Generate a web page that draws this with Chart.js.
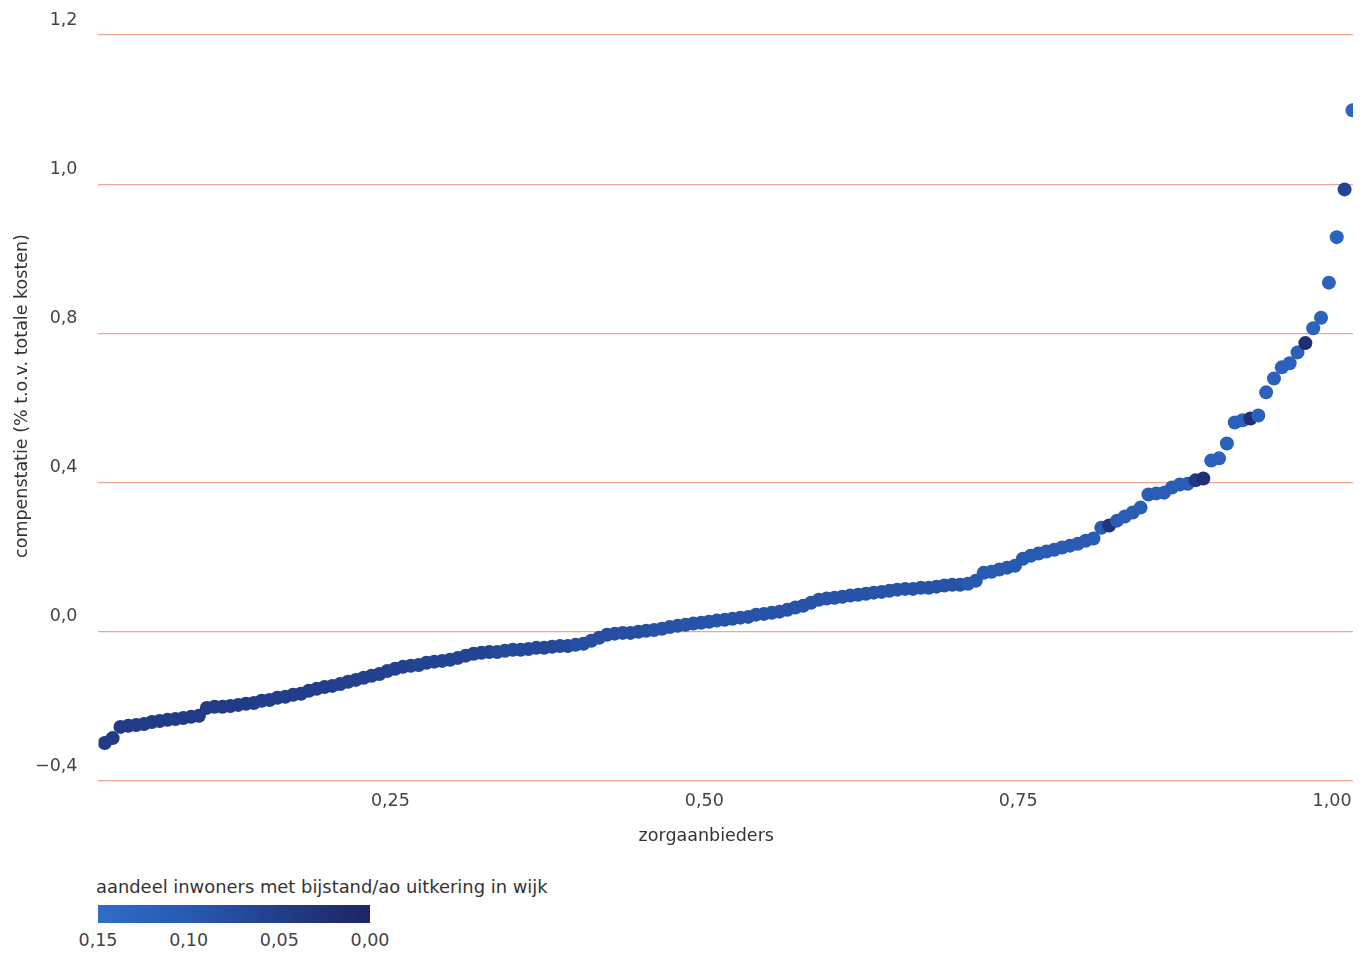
<!DOCTYPE html>
<html>
<head>
<meta charset="utf-8">
<script src="https://cdn.jsdelivr.net/npm/chart.js@4/dist/chart.umd.min.js"></script>
<style>
  html, body { margin: 0; padding: 0; background: #fff; }
  #wrap { position: relative; width: 1360px; height: 956px; }
  #c { position: absolute; left: 0; top: 0; }
  .lg { position: absolute; font-family: "DejaVu Sans", Verdana, sans-serif; color: #333; font-size: 17.9px; }
  #lgTitle { left: 96px; top: 876px; }
  #lgBar { position: absolute; left: 98px; top: 905px; width: 272px; height: 18px; }
  .lgTick { position: absolute; top: 930px; font-family: "DejaVu Sans", Verdana, sans-serif; color: #444; font-size: 17.5px; transform: translateX(-50%); }
</style>
</head>
<body>
<div id="wrap">
  <canvas id="c" width="1360" height="845"></canvas>
  <div class="lg" id="lgTitle">aandeel inwoners met bijstand/ao uitkering in wijk</div>
  <div id="lgBar"></div>
</div>
<script>
// ---- data ----
const compensation = [
-0.298,-0.285,-0.255,-0.252,-0.250,-0.247,-0.242,-0.239,-0.236,-0.234,
-0.231,-0.228,-0.225,-0.204,-0.201,-0.201,-0.199,-0.196,-0.193,-0.191,
-0.185,-0.183,-0.177,-0.174,-0.169,-0.166,-0.158,-0.153,-0.148,-0.145,
-0.140,-0.134,-0.129,-0.123,-0.118,-0.113,-0.105,-0.099,-0.094,-0.091,
-0.089,-0.083,-0.080,-0.078,-0.075,-0.070,-0.064,-0.059,-0.056,-0.054,
-0.054,-0.051,-0.048,-0.048,-0.046,-0.043,-0.043,-0.040,-0.038,-0.038,
-0.035,-0.032,-0.024,-0.016,-0.008,-0.005,-0.003,-0.003,0.000,0.003,
0.005,0.008,0.013,0.016,0.019,0.022,0.024,0.027,0.030,0.032,
0.035,0.038,0.040,0.046,0.048,0.051,0.054,0.059,0.065,0.070,
0.078,0.086,0.089,0.091,0.094,0.097,0.099,0.102,0.105,0.107,
0.110,0.113,0.115,0.115,0.118,0.118,0.121,0.124,0.126,0.126,
0.129,0.137,0.158,0.161,0.167,0.172,0.177,0.196,0.204,0.210,
0.215,0.220,0.226,0.231,0.236,0.244,0.250,0.279,0.285,0.298,
0.309,0.320,0.333,0.368,0.371,0.373,0.387,0.395,0.397,0.406,
0.411,0.459,0.465,0.505,0.561,0.567,0.572,0.580,0.642,0.679,
0.709,0.720,0.749,0.774,0.807,0.821,0.868,0.929,0.993,1.099
];
const benefitShare = [
0.045,0.045,0.045,0.045,0.045,0.045,0.045,0.045,0.045,0.045,
0.045,0.045,0.045,0.045,0.045,0.045,0.045,0.045,0.045,0.045,
0.050,0.050,0.050,0.050,0.050,0.050,0.050,0.050,0.050,0.050,
0.055,0.055,0.055,0.055,0.055,0.055,0.055,0.055,0.055,0.055,
0.060,0.060,0.060,0.060,0.060,0.060,0.060,0.060,0.060,0.060,
0.070,0.070,0.070,0.070,0.070,0.070,0.070,0.070,0.070,0.070,
0.080,0.080,0.080,0.080,0.080,0.080,0.080,0.080,0.080,0.080,
0.090,0.090,0.090,0.090,0.090,0.090,0.090,0.090,0.090,0.090,
0.090,0.090,0.090,0.090,0.090,0.090,0.090,0.090,0.090,0.090,
0.090,0.090,0.090,0.090,0.090,0.090,0.090,0.090,0.090,0.090,
0.090,0.090,0.090,0.090,0.090,0.090,0.090,0.090,0.090,0.090,
0.100,0.100,0.100,0.100,0.100,0.100,0.100,0.100,0.100,0.100,
0.105,0.105,0.105,0.105,0.105,0.105,0.105,0.105,0.030,0.105,
0.110,0.110,0.110,0.110,0.110,0.110,0.110,0.110,0.110,0.040,
0.020,0.120,0.120,0.120,0.120,0.120,0.020,0.120,0.120,0.120,
0.120,0.120,0.120,0.020,0.125,0.125,0.125,0.125,0.060,0.130
];
const yTickValues = [-0.4, 0.0, 0.4, 0.8, 1.0, 1.2];
const yTickLabels = ['\u22120,4', '0,0', '0,4', '0,8', '1,0', '1,2'];
const xTickValues = [0.25, 0.50, 0.75, 1.00];
const xTickLabels = ['0,25', '0,50', '0,75', '1,00'];
const legendTickValues = [0.15, 0.10, 0.05, 0.00];
const legendTickLabels = ['0,15', '0,10', '0,05', '0,00'];
const colorStops = [ // share -> colour
  [0.00, [30, 36, 100]],
  [0.05, [34, 62, 138]],
  [0.10, [40, 90, 176]],
  [0.15, [48, 108, 200]]
];

// ---- helpers ----
function axisPos(v) { // piecewise position along the (non-linear) y axis
  for (let k = 0; k < yTickValues.length - 1; k++) {
    const a = yTickValues[k], b = yTickValues[k + 1];
    if (v <= b || k === yTickValues.length - 2) return k + (v - a) / (b - a);
  }
}
function shareColor(s) {
  for (let k = 0; k < colorStops.length - 1; k++) {
    const [a, ca] = colorStops[k], [b, cb] = colorStops[k + 1];
    if (s <= b || k === colorStops.length - 2) {
      const t = Math.max(0, Math.min(1, (s - a) / (b - a)));
      const c = ca.map((x, j) => Math.round(x + (cb[j] - x) * t));
      return `rgb(${c[0]},${c[1]},${c[2]})`;
    }
  }
}
const n = compensation.length;
const points = compensation.map((v, i) => ({ x: (i + 3.6) / n, y: axisPos(v) }));
const colors = benefitShare.map(shareColor);

// legend
document.getElementById('lgBar').style.background =
  `linear-gradient(to right, ${shareColor(0.15)}, ${shareColor(0.10)}, ${shareColor(0.05)}, ${shareColor(0.0)})`;
legendTickLabels.forEach((lab, k) => {
  const d = document.createElement('div');
  d.className = 'lgTick';
  d.textContent = lab;
  d.style.left = (98 + (0.15 - legendTickValues[k]) / 0.15 * 272) + 'px';
  document.getElementById('wrap').appendChild(d);
});

const xTitleText = 'zorgaanbieders';
const yTitleText = 'compenstatie (% t.o.v. totale kosten)';
const titlesPlugin = {
  id: 'titles',
  afterDraw(chart) {
    const { ctx, scales: { x, y } } = chart;
    ctx.save();
    ctx.fillStyle = '#333';
    ctx.textAlign = 'center';
    ctx.textBaseline = 'middle';
    ctx.font = '17.5px "DejaVu Sans"';
    ctx.fillText(xTitleText, x.getPixelForValue(0.5) + 2, x.bottom - 9);
    ctx.translate(22, (y.top + y.bottom) / 2 - 12);
    ctx.rotate(-Math.PI / 2);
    ctx.font = '17.5px "DejaVu Sans"';
    ctx.fillText(yTitleText, 0, 0);
    ctx.restore();
  }
};

const gridColor = 'rgb(238,166,146)';
new Chart(document.getElementById('c'), {
  type: 'scatter',
  data: { datasets: [{ data: points, pointBackgroundColor: colors, pointBorderWidth: 0, pointRadius: 7, pointHoverRadius: 7 }] },
  options: {
    responsive: false, animation: false,
    layout: { padding: { top: 35, right: 7, left: 14, bottom: 0 } },
    plugins: { legend: { display: false }, tooltip: { enabled: false } },
    scales: {
      x: {
        type: 'linear', min: 0.0175, max: 1.0167,
        afterBuildTicks: s => { s.ticks = xTickValues.map(v => ({ value: v })); },
        ticks: { callback: (v) => xTickLabels[xTickValues.indexOf(v)], color: '#444', padding: 2,
                 font: { family: 'DejaVu Sans', size: 17.5 }, maxRotation: 0 },
        grid: { display: false }, border: { display: false },
        title: { display: true, text: xTitleText, color: 'rgba(0,0,0,0)', padding: { top: 10, bottom: 0 },
                 font: { family: 'DejaVu Sans', size: 17.5 } }
      },
      y: {
        type: 'linear', min: 0, max: 5,
        afterBuildTicks: s => { s.ticks = yTickValues.map((v, k) => ({ value: k })); },
        ticks: { callback: (v) => yTickLabels[v], color: '#444', padding: 21, labelOffset: -15,
                 font: { family: 'DejaVu Sans', size: 17.5 } },
        grid: { color: gridColor, lineWidth: 1.2, drawTicks: false }, border: { display: false },
        title: { display: false }
      }
    }
  },
  plugins: [titlesPlugin]
});
</script>
</body>
</html>
